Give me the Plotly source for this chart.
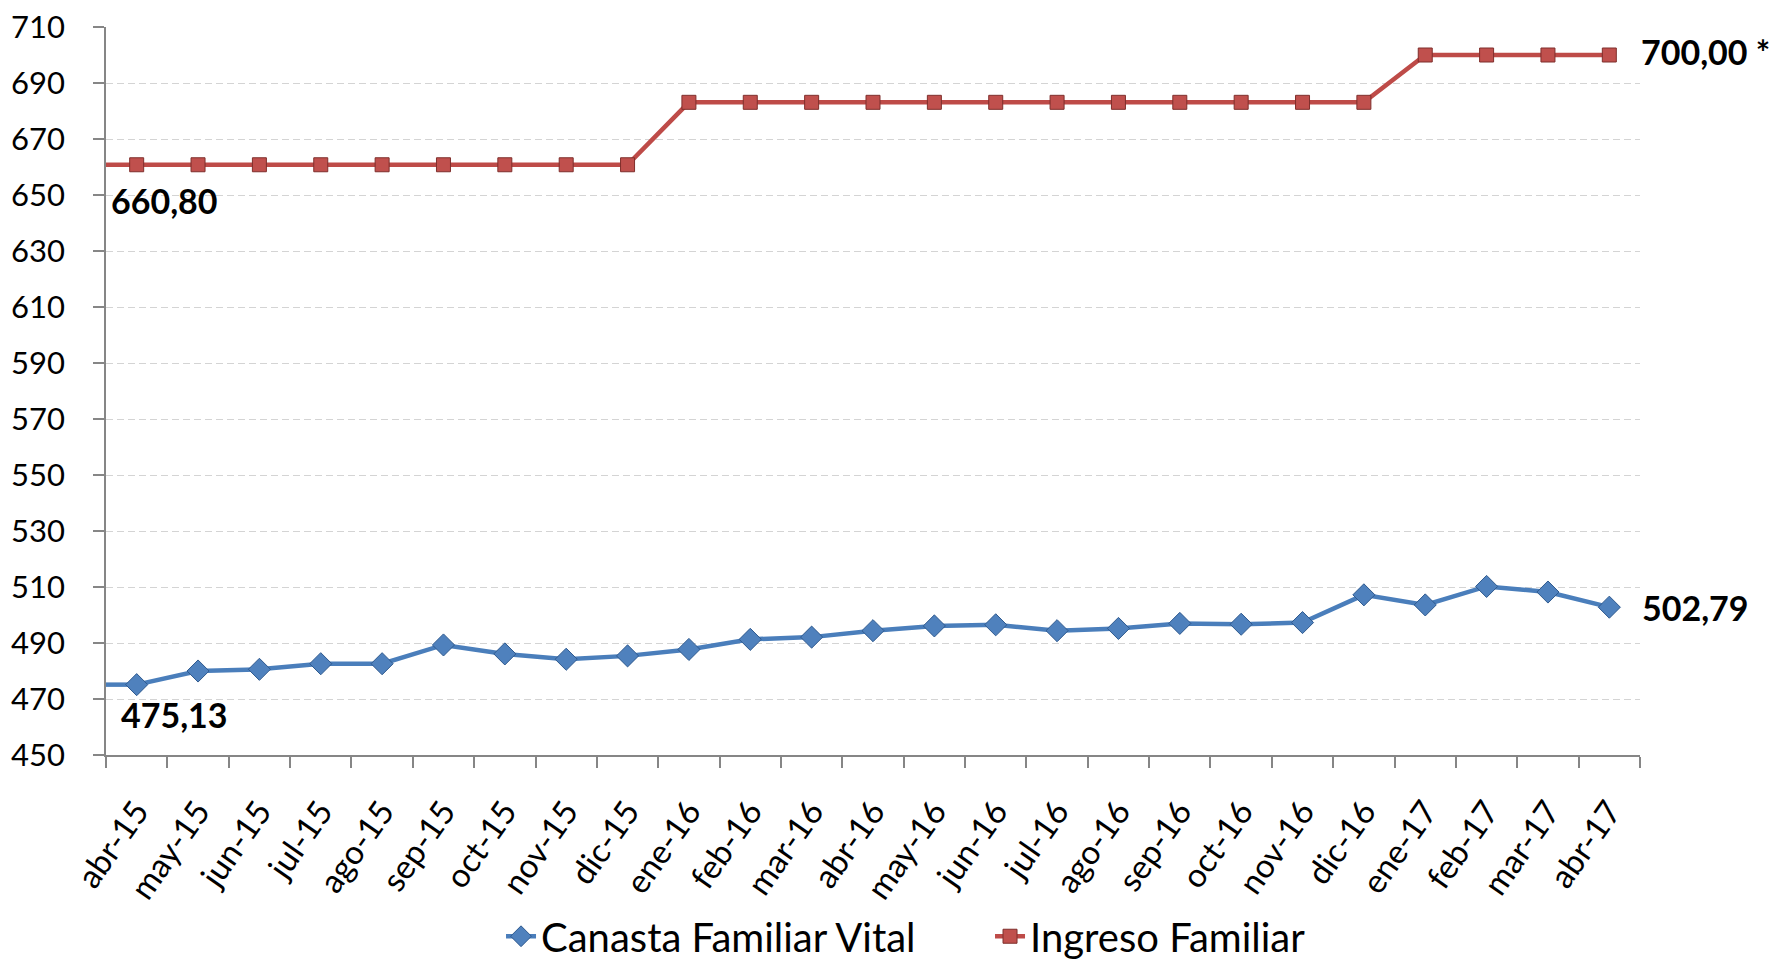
import plotly.graph_objects as go

categories = ["abr-15", "may-15", "jun-15", "jul-15", "ago-15", "sep-15", "oct-15", "nov-15",
              "dic-15", "ene-16", "feb-16", "mar-16", "abr-16", "may-16", "jun-16", "jul-16",
              "ago-16", "sep-16", "oct-16", "nov-16", "dic-16", "ene-17", "feb-17", "mar-17", "abr-17"]

canasta = [475.13, 480.0, 480.6, 482.6, 482.6, 489.3, 486.1, 484.2, 485.4, 487.7, 491.3, 492.1,
           494.4, 496.1, 496.5, 494.4, 495.2, 497.0, 496.7, 497.3, 507.2, 503.6, 510.2, 508.2, 502.79]

ingreso = [660.80] * 9 + [683.10] * 12 + [700.00] * 4

y_ticks = list(range(450, 711, 20))

FONT = "Lato, Open Sans, sans-serif"
BLUE = "#4A7EBB"
RED = "#BE4B48"

n = len(categories)
xs = list(range(n))
lead = -0.5

fig = go.Figure()

# lead-in segments from the axis edge to the first point
fig.add_trace(go.Scatter(x=[lead, 0], y=[canasta[0], canasta[0]], mode="lines",
                         line=dict(color=BLUE, width=4.5), showlegend=False, hoverinfo="skip"))
fig.add_trace(go.Scatter(x=[lead, 0], y=[ingreso[0], ingreso[0]], mode="lines",
                         line=dict(color=RED, width=4.5), showlegend=False, hoverinfo="skip"))

fig.add_trace(go.Scatter(
    x=xs, y=canasta, mode="lines+markers", name="Canasta Familiar Vital",
    line=dict(color=BLUE, width=4.5),
    marker=dict(symbol="diamond", size=17, color="#4F81BD", line=dict(color="#2F5A8F", width=1)),
))
fig.add_trace(go.Scatter(
    x=xs, y=ingreso, mode="lines+markers", name="Ingreso Familiar",
    line=dict(color=RED, width=4.5),
    marker=dict(symbol="square", size=14, color="#C0504D", line=dict(color="#7F2F2C", width=1)),
))

ann_font = dict(family=FONT, size=34, color="#000000")
annotations = [
    dict(x=0, y=ingreso[0], text="<b>660,80</b>", xanchor="left", yanchor="middle",
         xshift=-28, yshift=-36, showarrow=False, font=ann_font),
    dict(x=0, y=canasta[0], text="<b>475,13</b>", xanchor="left", yanchor="middle",
         xshift=-18, yshift=-30, showarrow=False, font=ann_font),
    dict(x=n - 1, y=ingreso[-1], text="<b>700,00 *</b>", xanchor="left", yanchor="middle",
         xshift=30, yshift=4, showarrow=False, font=ann_font),
    dict(x=n - 1, y=canasta[-1], text="<b>502,79</b>", xanchor="left", yanchor="middle",
         xshift=31, yshift=0, showarrow=False, font=ann_font),
]

fig.update_layout(
    width=1769, height=954,
    margin=dict(l=98, r=137, t=19, b=207, autoexpand=False),
    paper_bgcolor="white", plot_bgcolor="white",
    font=dict(family=FONT, color="#000000"),
    showlegend=True,
    legend=dict(orientation="h", x=0.2787, xanchor="left", xref="container",
                y=0.027, yanchor="middle", yref="container",
                font=dict(family=FONT, size=40, color="#000000"),
                entrywidth=444, entrywidthmode="pixels",
                traceorder="normal"),
    annotations=annotations,
)

fig.update_xaxes(
    range=[-0.5, n - 0.5], automargin=False,
    tickmode="array", tickvals=xs, ticktext=categories,
    tickangle=-55, ticks="", showgrid=False, zeroline=False,
    tickfont=dict(family=FONT, size=33, color="#000000"),
    showline=True, linecolor="#868686", linewidth=1.5,
    ticklabelstandoff=22, ticklabeloverflow="allow",
    minor=dict(tickmode="array", tickvals=[i - 0.5 for i in range(n + 1)],
               ticks="outside", ticklen=11, tickcolor="#868686", tickwidth=1.5, showgrid=False),
)

fig.update_yaxes(
    range=[450, 710], automargin=False, tickmode="array", tickvals=y_ticks,
    ticks="outside", ticklen=11, tickcolor="#868686", tickwidth=1.5,
    showline=True, linecolor="#868686", linewidth=1.5,
    showgrid=True, gridcolor="#D4D4D4", gridwidth=1.2, griddash="7px,4px",
    zeroline=False,
    tickfont=dict(family=FONT, size=31, color="#000000"),
    ticklabelstandoff=22, ticklabeloverflow="allow",
)

fig.write_html("out.html")
